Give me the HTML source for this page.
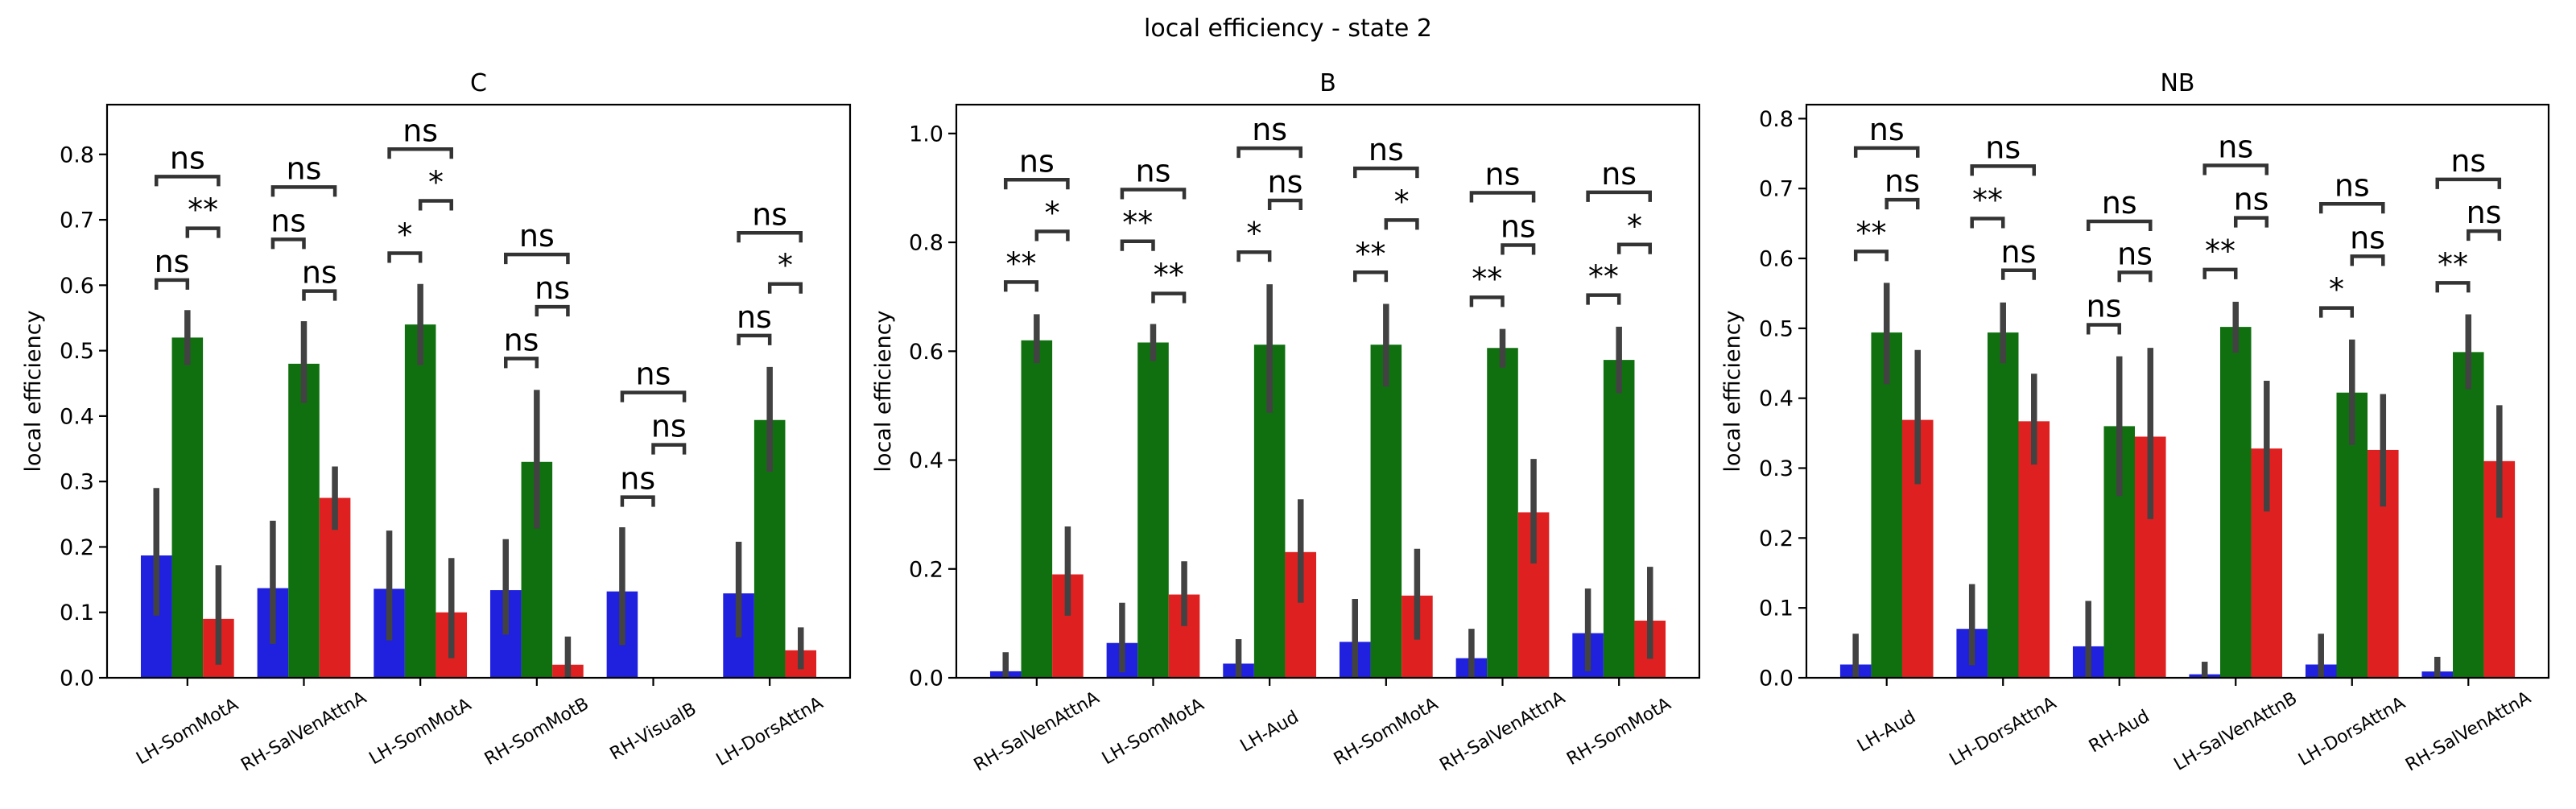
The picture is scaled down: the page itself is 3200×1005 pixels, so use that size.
<!DOCTYPE html>
<html><head><meta charset="utf-8"><style>
body{margin:0;background:#fff}
svg text{font-family:"DejaVu Sans","Liberation Sans",sans-serif;fill:#000}
</style></head><body>
<svg id="fig" width="3200" height="1000" viewBox="0 0 3200 1000" xmlns="http://www.w3.org/2000/svg">
<rect width="3200" height="1000" fill="#fff"/>
<text x="1600" y="45" font-size="30" text-anchor="middle">local efficiency - state 2</text>
</svg>
<script>
// Panel data
const panelTitles = ["C","B","NB"];
const catsC = ["LH-SomMotA","RH-SalVenAttnA","LH-SomMotA","RH-SomMotB","RH-VisualB","LH-DorsAttnA"];
const catsB = ["RH-SalVenAttnA","LH-SomMotA","LH-Aud","RH-SomMotA","RH-SalVenAttnA","RH-SomMotA"];
const catsNB = ["LH-Aud","LH-DorsAttnA","RH-Aud","LH-SalVenAttnB","LH-DorsAttnA","RH-SalVenAttnA"];
const blueC = [0.187,0.137,0.136,0.134,0.132,0.129];
const greenC = [0.52,0.48,0.54,0.33,0,0.394];
const redC = [0.09,0.275,0.10,0.02,0,0.042];
const blueB = [0.012,0.064,0.026,0.066,0.036,0.082];
const greenB = [0.62,0.616,0.612,0.612,0.606,0.584];
const redB = [0.19,0.153,0.231,0.151,0.304,0.105];
const blueNB = [0.019,0.07,0.045,0.005,0.019,0.009];
const greenNB = [0.494,0.494,0.36,0.502,0.408,0.466];
const redNB = [0.369,0.367,0.345,0.328,0.326,0.31];
// error bars [lo,hi]
const blueErrC = [[0.095,0.29],[0.052,0.24],[0.057,0.225],[0.066,0.212],[0.05,0.23],[0.062,0.208]];
const greenErrC = [[0.478,0.562],[0.42,0.545],[0.478,0.602],[0.228,0.44],null,[0.315,0.475]];
const redErrC = [[0.02,0.172],[0.226,0.323],[0.03,0.183],[0,0.063],null,[0.013,0.077]];
const blueErrB = [[0,0.047],[0.01,0.138],[0,0.071],[0,0.145],[0,0.09],[0.012,0.164]];
const greenErrB = [[0.578,0.668],[0.582,0.65],[0.487,0.723],[0.535,0.687],[0.57,0.641],[0.523,0.645]];
const redErrB = [[0.114,0.278],[0.095,0.214],[0.138,0.328],[0.07,0.237],[0.21,0.402],[0.035,0.204]];
const blueErrNB = [[0,0.063],[0.018,0.134],[0,0.11],[0,0.023],[0,0.063],[0,0.03]];
const greenErrNB = [[0.42,0.565],[0.45,0.537],[0.26,0.46],[0.465,0.538],[0.333,0.484],[0.413,0.52]];
const redErrNB = [[0.277,0.469],[0.305,0.435],[0.227,0.472],[0.238,0.425],[0.245,0.406],[0.229,0.39]];
// significance brackets: [blue-green level, green-red level, blue-red level]
const bracketLevelsC = [[0.608,0.687,0.766],[0.670,0.591,0.750],[0.649,0.729,0.808],[0.488,0.567,0.647],[0.276,0.356,0.436],[0.523,0.602,0.680]];
const bracketTextC = [["ns","**","ns"],["ns","ns","ns"],["*","*","ns"],["ns","ns","ns"],["ns","ns","ns"],["ns","*","ns"]];
const bracketLevelsB = [[0.727,0.820,0.915],[0.802,0.706,0.897],[0.782,0.877,0.973],[0.745,0.841,0.936],[0.699,0.795,0.891],[0.703,0.796,0.892]];
const bracketTextB = [["**","*","ns"],["**","**","ns"],["*","ns","ns"],["**","*","ns"],["**","ns","ns"],["**","*","ns"]];
const bracketLevelsNB = [[0.610,0.684,0.758],[0.657,0.583,0.732],[0.505,0.580,0.653],[0.584,0.658,0.733],[0.529,0.603,0.678],[0.565,0.639,0.713]];
const bracketTextNB = [["**","ns","ns"],["**","ns","ns"],["ns","ns","ns"],["**","ns","ns"],["*","ns","ns"],["**","ns","ns"]];
const yTicksC = [0,0.1,0.2,0.3,0.4,0.5,0.6,0.7,0.8];
const yTicksB = [0,0.2,0.4,0.6,0.8,1.0];
const yTicksNB = [0,0.1,0.2,0.3,0.4,0.5,0.6,0.7,0.8];
const yTickLabelsC = ["0.0","0.1","0.2","0.3","0.4","0.5","0.6","0.7","0.8"];
const yTickLabelsB = ["0.0","0.2","0.4","0.6","0.8","1.0"];
const yTickLabelsNB = ["0.0","0.1","0.2","0.3","0.4","0.5","0.6","0.7","0.8"];
const yMaxC = 0.876, yMaxB = 1.053, yMaxNB = 0.820;

const NS="http://www.w3.org/2000/svg";
const svg=document.getElementById('fig');
function mk(tag,attrs,parent){const e=document.createElementNS(NS,tag);for(const k in attrs)e.setAttribute(k,attrs[k]);(parent||svg).appendChild(e);return e;}
const colors=["#2020df","#107010","#df2020"];
const seriesNames=["blue","green","red"];

function panel(p){
  const g=mk('g',{});
  
  
  const L=p.left,R=p.right,T=130,B=842;
  const n=p.cats.length;
  const xmin=-0.69,xmax=n-1+0.69;
  const X=v=>L+(v-xmin)/(xmax-xmin)*(R-L);
  const Y=v=>B-v/p.ymax*(B-T);
  const bw=0.8/3;
  const vals=[p.blue,p.green,p.red];
  const errs=[p.blueErr,p.greenErr,p.redErr];
  for(let s=0;s<3;s++){
    for(let i=0;i<n;i++){
      const x0=X(i-0.4+s*bw), x1=X(i-0.4+(s+1)*bw);
      const r=mk('rect',{x:x0,y:Y(vals[s][i]),width:x1-x0,height:B-Y(vals[s][i]),fill:colors[s]},g);
      
      
    }
  }
  for(let s=0;s<3;s++){
    for(let i=0;i<n;i++){
      const e=errs[s][i]; if(!e) continue;
      const cx=X(i-0.4+(s+0.5)*bw);
      const l=mk('line',{x1:cx,x2:cx,y1:Y(e[0]),y2:Y(e[1]),stroke:"#424242","stroke-width":7.5},g);
      
      
    }
  }
  const pairs=[[0,1],[1,2],[0,2]];
  for(let i=0;i<n;i++){
    for(let k=0;k<3;k++){
      const a=X(i-0.4+(pairs[k][0]+0.5)*bw), b=X(i-0.4+(pairs[k][1]+0.5)*bw);
      const y=Y(p.levels[i][k]);
      const pl=mk('polyline',{points:`${a},${y+12} ${a},${y} ${b},${y} ${b},${y+12}`,fill:"none",stroke:"#333","stroke-width":4.5},g);
      
      
      const t=mk('text',{x:(a+b)/2,y:y-10,"font-size":38,"text-anchor":"middle"},g);
      t.textContent=p.texts[i][k];
      
      
    }
  }
  const fr=mk('rect',{x:L,y:T,width:R-L,height:B-T,fill:"none",stroke:"#000","stroke-width":2.2},g);
  
  
  for(let j=0;j<p.yticks.length;j++){
    const y=Y(p.yticks[j]);
    mk('line',{x1:L-10,x2:L,y1:y,y2:y,stroke:"#000","stroke-width":2.2},g);
    const t=mk('text',{x:L-16,y:y+9.5,"font-size":27,"text-anchor":"end"},g);
    t.textContent=p.ylabels[j];
    
    
  }
  for(let i=0;i<n;i++){
    const x=X(i);
    mk('line',{x1:x,x2:x,y1:B,y2:B+10,stroke:"#000","stroke-width":2.2},g);
    const t=mk('text',{x:x,y:909,"font-size":22,"text-anchor":"middle","dominant-baseline":"central",transform:`rotate(-30 ${x} 909)`},g);
    t.textContent=p.cats[i];
    
    
  }
  const yl=mk('text',{x:p.ylx,y:486,"font-size":27,"text-anchor":"middle",transform:`rotate(-90 ${p.ylx} 486)`},g);
  yl.textContent="local efficiency";
  
  
  const tt=mk('text',{x:(L+R)/2,y:113,"font-size":30,"text-anchor":"middle"},g);
  tt.textContent=p.title;
  
  
}
panel({key:"c",title:panelTitles[0],left:133,right:1056,ymax:yMaxC,cats:catsC,blue:blueC,green:greenC,red:redC,blueErr:blueErrC,greenErr:greenErrC,redErr:redErrC,levels:bracketLevelsC,texts:bracketTextC,yticks:yTicksC,ylabels:yTickLabelsC,ylx:50});
panel({key:"b",title:panelTitles[1],left:1188,right:2111,ymax:yMaxB,cats:catsB,blue:blueB,green:greenB,red:redB,blueErr:blueErrB,greenErr:greenErrB,redErr:redErrB,levels:bracketLevelsB,texts:bracketTextB,yticks:yTicksB,ylabels:yTickLabelsB,ylx:1106});
panel({key:"nb",title:panelTitles[2],left:2244,right:3166,ymax:yMaxNB,cats:catsNB,blue:blueNB,green:greenNB,red:redNB,blueErr:blueErrNB,greenErr:greenErrNB,redErr:redErrNB,levels:bracketLevelsNB,texts:bracketTextNB,yticks:yTicksNB,ylabels:yTickLabelsNB,ylx:2161});
</script>
</body></html>
